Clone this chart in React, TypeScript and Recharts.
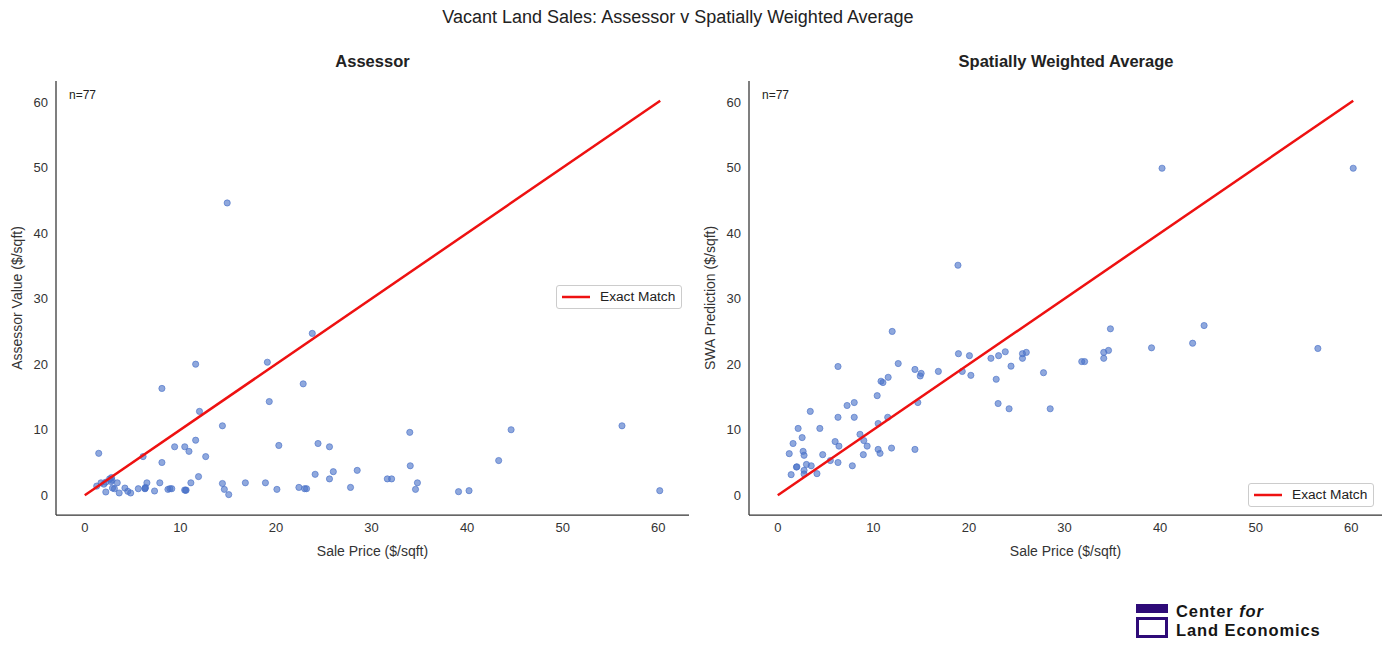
import React from 'react';
import { ScatterChart, Scatter, XAxis, YAxis, Legend, Label } from 'recharts';

// sale price ($/sqft), assessor value ($/sqft)
const assessorPoints: [number, number][] = [
  [11.6, 20.0], [19.1, 20.3], [8.07, 16.3], [22.85, 17.0], [19.3, 14.3], [12.0, 12.8],
  [14.4, 10.6], [20.3, 7.6], [1.46, 6.4], [9.4, 7.4], [10.46, 7.4], [10.9, 6.7],
  [11.6, 8.4], [12.65, 5.9], [6.1, 5.9], [8.07, 5.0], [11.9, 2.85], [14.4, 1.8],
  [14.6, 0.9], [15.06, 0.1], [16.8, 1.9], [18.9, 1.9], [20.1, 0.9], [22.4, 1.2],
  [23.0, 1.0], [23.2, 1.0], [24.1, 3.2], [1.25, 1.4], [1.7, 1.9], [2.2, 2.0],
  [2.6, 2.5], [2.8, 2.7], [2.85, 2.3], [3.4, 1.9], [2.2, 0.5], [2.9, 1.1],
  [3.1, 1.0], [3.6, 0.35], [4.2, 1.1], [4.5, 0.6], [4.8, 0.35], [5.6, 1.0],
  [6.3, 1.0], [6.35, 1.2], [6.5, 1.9], [7.3, 0.65], [7.85, 1.9], [8.7, 0.9],
  [8.9, 1.0], [9.1, 1.0], [10.45, 0.8], [10.6, 0.8], [11.1, 1.9], [24.4, 7.9],
  [25.6, 7.4], [34.0, 9.6], [44.6, 10.0], [56.2, 10.6], [25.6, 2.5], [26.0, 3.6],
  [28.5, 3.8], [27.8, 1.2], [31.65, 2.5], [32.1, 2.5], [34.05, 4.5], [34.8, 1.9],
  [34.6, 0.9], [39.1, 0.55], [40.2, 0.7], [43.3, 5.3], [60.15, 0.7], [14.9, 44.6],
  [23.8, 24.7], [10.55, 0.75], [2.0, 1.7], [2.75, 2.1], [6.3, 1.05],
];

// sale price ($/sqft), SWA prediction ($/sqft)
const swaPoints: [number, number][] = [
  [11.97, 25.0], [6.3, 19.65], [12.6, 20.1], [14.35, 19.2], [15.0, 18.6], [14.9, 18.2],
  [16.8, 18.9], [10.8, 17.4], [11.0, 17.2], [11.55, 18.0], [10.4, 15.2], [14.65, 14.15],
  [3.4, 12.8], [7.25, 13.7], [8.0, 14.15], [6.3, 11.9], [8.0, 11.9], [11.5, 11.9],
  [10.5, 10.95], [2.13, 10.2], [4.4, 10.2], [2.55, 8.8], [8.6, 9.3], [9.0, 8.35],
  [1.6, 7.9], [6.0, 8.2], [6.4, 7.5], [9.35, 7.5], [10.5, 7.0], [10.7, 6.4],
  [11.9, 7.2], [14.35, 7.0], [1.2, 6.35], [2.65, 6.7], [2.75, 6.1], [4.7, 6.2],
  [5.5, 5.3], [8.95, 6.2], [6.3, 5.0], [7.8, 4.5], [1.95, 4.3], [2.0, 4.35],
  [3.0, 4.7], [3.5, 4.5], [2.75, 3.8], [2.75, 3.25], [4.1, 3.3], [1.4, 3.15],
  [18.9, 21.6], [20.05, 21.3], [19.3, 18.9], [20.2, 18.3], [22.3, 20.9], [23.1, 21.3],
  [23.8, 21.9], [25.6, 21.6], [26.0, 21.8], [25.6, 20.9], [24.4, 19.7], [22.85, 17.7],
  [27.8, 18.7], [23.05, 14.0], [24.2, 13.2], [28.5, 13.2], [31.8, 20.4], [32.1, 20.4],
  [34.1, 21.8], [34.6, 22.1], [34.1, 20.9], [34.8, 25.4], [40.2, 49.9], [60.2, 49.9],
  [44.6, 25.9], [43.4, 23.2], [39.1, 22.5], [56.5, 22.4], [18.85, 35.1],
];

const exactMatchRange = [0, 60.2];
const axisTicks = [0, 10, 20, 30, 40, 50, 60];
const axisDomain = [-3.01, 63.21];

const FONT = '"Liberation Sans", Arial, sans-serif';
const POINT_COLOR = '#4a72c8';
const tickStyle = { fontSize: 13, fill: '#333', fontFamily: FONT };

const Dot = (p: any) => (
  <circle cx={p.cx} cy={p.cy} r={3.1} fill={POINT_COLOR} fillOpacity={0.62}
    stroke={POINT_COLOR} strokeOpacity={0.8} strokeWidth={0.8} />
);

const LegendBox = ({ payload }: any) => (
  <div style={{
    display: 'inline-flex', alignItems: 'center', background: '#fff',
    border: '1px solid #ccc', borderRadius: 3, padding: '3px 6px 4px 5px',
    fontFamily: FONT, fontSize: 13.7, color: '#222', whiteSpace: 'nowrap'
  }}>
    {(payload || []).filter((e: any) => e.value === 'Exact Match').map((e: any) => (
      <span key={e.value} style={{ display: 'inline-flex', alignItems: 'center' }}>
        <svg width={28} height={10} style={{ marginRight: 10 }}>
          <line x1={0} y1={5} x2={28} y2={5} stroke="#ee1111" strokeWidth={2.5} />
        </svg>
        {e.value}
      </span>
    ))}
  </div>
);

interface PanelProps {
  left: number;
  points: [number, number][];
  yLabel: string;
  legendPos: { left: number; top: number };
}

const Panel = ({ left, points, yLabel, legendPos }: PanelProps) => {
  const data = points.map(([x, y]) => ({ x, y }));
  const lineData = exactMatchRange.map((v) => ({ x: v, y: v }));
  return (
    <div style={{ position: 'absolute', left, top: 0 }}>
      <ScatterChart width={700} height={580} margin={{ top: 81, right: 11, bottom: 35, left: 0 }}>
        <XAxis type="number" dataKey="x" domain={axisDomain} ticks={axisTicks}
          allowDataOverflow tickLine={false} tick={tickStyle}
          axisLine={{ stroke: '#333', strokeWidth: 1.25 }} height={30}>
          <Label content={({ viewBox }: any) => (
            <text x={viewBox.x + viewBox.width / 2} y={viewBox.y + viewBox.height + 11}
              textAnchor="middle" fontSize={14} fill="#333" fontFamily={FONT}>
              Sale Price ($/sqft)
            </text>
          )} />
        </XAxis>
        <YAxis type="number" dataKey="y" domain={axisDomain} ticks={axisTicks}
          allowDataOverflow tickLine={false} tick={tickStyle}
          axisLine={{ stroke: '#333', strokeWidth: 1.25 }} width={56}>
          <Label content={({ viewBox }: any) => {
            const cx = viewBox.x + 22;
            const cy = viewBox.y + viewBox.height / 2;
            return (
              <text x={cx} y={cy} transform={`rotate(-90 ${cx} ${cy})`}
                textAnchor="middle" fontSize={14} fill="#333" fontFamily={FONT}>
                {yLabel}
              </text>
            );
          }} />
        </YAxis>
        <Scatter data={data} shape={Dot} legendType="none" isAnimationActive={false} />
        <Scatter name="Exact Match" data={lineData} fill="#ee1111" legendType="line"
          line={{ stroke: '#ee1111', strokeWidth: 2.5 }} shape={() => <g />}
          isAnimationActive={false} />
        <Legend layout="horizontal" align="center" verticalAlign="middle"
          content={LegendBox}
          wrapperStyle={{ left: legendPos.left, top: legendPos.top, width: 'auto' }} />
      </ScatterChart>
    </div>
  );
};

export default function App() {
  return (
    <div style={{
      position: 'absolute', left: 0, top: 0, width: 1392, height: 671,
      background: '#fff', fontFamily: FONT, color: '#222', overflow: 'hidden'
    }}>
      <div style={{ position: 'absolute', left: 0, width: 1356, top: 7, textAlign: 'center', fontSize: 18 }}>
        Vacant Land Sales: Assessor v Spatially Weighted Average
      </div>
      <div style={{ position: 'absolute', left: 56, width: 633, top: 52, textAlign: 'center', fontSize: 16.5, fontWeight: 'bold' }}>
        Assessor
      </div>
      <div style={{ position: 'absolute', left: 749, width: 634, top: 52, textAlign: 'center', fontSize: 16.5, fontWeight: 'bold' }}>
        Spatially Weighted Average
      </div>

      <Panel left={0} points={assessorPoints} yLabel="Assessor Value ($/sqft)" legendPos={{ left: 556, top: 285 }} />
      <Panel left={693} points={swaPoints} yLabel="SWA Prediction ($/sqft)" legendPos={{ left: 555, top: 483 }} />

      <div style={{ position: 'absolute', left: 69, top: 88, fontSize: 12 }}>n=77</div>
      <div style={{ position: 'absolute', left: 762, top: 88, fontSize: 12 }}>n=77</div>

      <div style={{ position: 'absolute', left: 1136, top: 604 }}>
        <div style={{ width: 32, height: 9, background: '#2e0b78' }} />
        <div style={{ width: 26, height: 15, marginTop: 4, border: '3px solid #2e0b78' }} />
      </div>
      <div style={{
        position: 'absolute', left: 1176, top: 602, fontFamily: FONT,
        fontWeight: 'bold', fontSize: 16.5, lineHeight: '18.5px', letterSpacing: 0.9, color: '#151515'
      }}>
        <div>Center <i>for</i></div>
        <div>Land Economics</div>
      </div>
    </div>
  );
}
